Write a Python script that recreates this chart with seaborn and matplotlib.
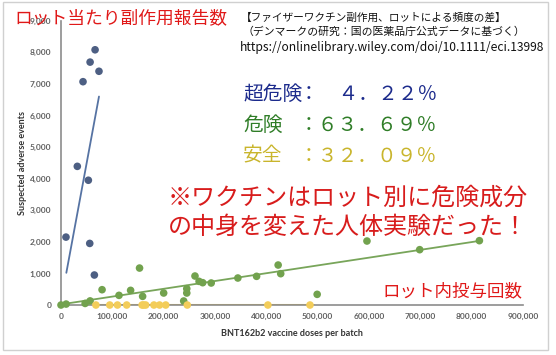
import pandas as pd
import matplotlib.pyplot as plt
import seaborn as sns
from matplotlib.patches import Rectangle

# lots (doses per batch, suspected adverse events)
blue_x = [9700, 31800, 42900, 53300, 56000, 56700, 65000, 66400, 74000]
blue_y = [2150, 4390, 7070, 3950, 1950, 7690, 950, 8080, 7400]
green_x = [0, 10000, 47000, 56700, 80000, 113000, 135600, 153000, 159000, 200000,
           239000, 245000, 245000, 261000, 269000, 276000, 292600, 344500, 381000,
           423000, 428000, 499000, 596000, 698700, 815000]
green_y = [0, 30, 50, 130, 485, 306, 464, 1170, 274, 380,
           127, 380, 517, 918, 749, 707, 697, 855, 908,
           1266, 992, 338, 2026, 1752, 2037]
yellow_x = [68000, 95000, 110000, 128000, 158000, 161000, 165000, 181000, 192000,
            204000, 246000, 403000, 485000]
yellow_y = [0, 0, 0, 0, 0, 0, 0, 0, 0, 0, 0, 0, 0]

# trend lines as drawn in the source
blue_fit_x = [10400, 74000]
blue_fit_y = [1020, 6600]
green_fit_x = [0, 815000]
green_fit_y = [20, 2030]
yellow_fit_x = [67000, 490000]
yellow_fit_y = [15, 15]

x_ticks = [0, 100000, 200000, 300000, 400000, 500000, 600000, 700000, 800000, 900000]
y_ticks = [0, 1000, 2000, 3000, 4000, 5000, 6000, 7000, 8000, 9000]

share_labels = ['超危険', '危険', '安全']
share_values = ['：　４．２２％', '：６３．６９％', '：３２．０９％']

df = pd.concat([
    pd.DataFrame({'doses': blue_x, 'events': blue_y, 'group': 'blue'}),
    pd.DataFrame({'doses': green_x, 'events': green_y, 'group': 'green'}),
    pd.DataFrame({'doses': yellow_x, 'events': yellow_y, 'group': 'yellow'}),
])
fits = pd.concat([
    pd.DataFrame({'doses': blue_fit_x, 'events': blue_fit_y, 'group': 'blue'}),
    pd.DataFrame({'doses': green_fit_x, 'events': green_fit_y, 'group': 'green'}),
])
yellow_fit = pd.DataFrame({'doses': yellow_fit_x, 'events': yellow_fit_y})

pt_colors = {'blue': '#4d5f83', 'green': '#72a24e', 'yellow': '#f3cd5a'}
line_colors = {'blue': '#5673a3', 'green': '#78a55a'}

sns.set_style('white')
plt.rcParams['font.family'] = ['Noto Sans CJK JP', 'DejaVu Sans']

fig = plt.figure(figsize=(5.56, 3.55), dpi=100)
ax = fig.add_axes([0.1097, 0.1408, 0.831, 0.8008])

sns.lineplot(data=fits, x='doses', y='events', hue='group', palette=line_colors,
             linewidth=1.3, legend=False, ax=ax, zorder=2)
sns.lineplot(data=yellow_fit, x='doses', y='events', color='#e2bc45',
             linewidth=2.2, ax=ax, zorder=2.5)
sns.scatterplot(data=df, x='doses', y='events', hue='group', palette=pt_colors,
                s=30, edgecolor='none', legend=False, ax=ax, zorder=3, clip_on=False)

ax.set_xlim(0, 900000)
ax.set_ylim(0, 9000)
ax.set_xticks(x_ticks)
ax.set_yticks(y_ticks)
ax.set_xticklabels([f'{v:,}' for v in x_ticks], family='Lato', fontsize=6,
                   color='#606060', fontweight='bold')
ax.set_yticklabels([f'{v:,}' for v in y_ticks], family='Lato', fontsize=6,
                   color='#606060', fontweight='bold')
ax.tick_params(length=0)
ax.tick_params(axis='y', pad=7)
ax.tick_params(axis='x', pad=6)
ax.set_xlabel('BNT162b2 vaccine doses per batch', family='Lato', fontsize=6.5,
              fontweight='bold', color='#333333', labelpad=6)
ax.set_ylabel('Suspected adverse events', family='Lato', fontsize=6.5,
              fontweight='bold', color='#333333', labelpad=2)
sns.despine(ax=ax)
for side in ['left', 'bottom']:
    ax.spines[side].set_color('#8c8c8c')
    ax.spines[side].set_linewidth(1.2)
ax.patch.set_alpha(0)

fig.patches.append(Rectangle((3 / 556, 5 / 355), 545 / 556, 348 / 355,
                             transform=fig.transFigure, fill=False,
                             edgecolor='#d0d0d0', linewidth=1))

W, H = 556, 355

def put(x, y, s, ha='left', **kw):
    fig.text(x / W, 1 - y / H, s, va='center', ha=ha, **kw)

put(14, 18, 'ロット当たり副作用報告数', fontsize=12.8, color='#e01818')
put(241, 18, '【ファイザーワクチン副作用、ロットによる頻度の差】', fontsize=7.7, color='#111111')
put(243, 32, '（デンマークの研究：国の医薬品庁公式データに基づく）', fontsize=7.8, color='#111111')
put(240, 47, 'https://onlinelibrary.wiley.com/doi/10.1111/eci.13998', fontsize=8.7, color='#111111')

share_colors = ['#1c2b8c', '#2f7d27', '#c9b52c']
for i, (lab, val) in enumerate(zip(share_labels, share_values)):
    y = 94 + i * 31
    put(243, y, lab, fontsize=14.2, color=share_colors[i])
    put(437, y, val, ha='right', fontsize=14.2, color=share_colors[i])

put(168, 198, '※ワクチンはロット別に危険成分', fontsize=17.3, color='#d81c1c')
put(168, 227, 'の中身を変えた人体実験だった！', fontsize=17.3, color='#d81c1c')
put(382, 291, 'ロット内投与回数', fontsize=12.6, color='#e01818')

fig.savefig('out.png', dpi=100)
